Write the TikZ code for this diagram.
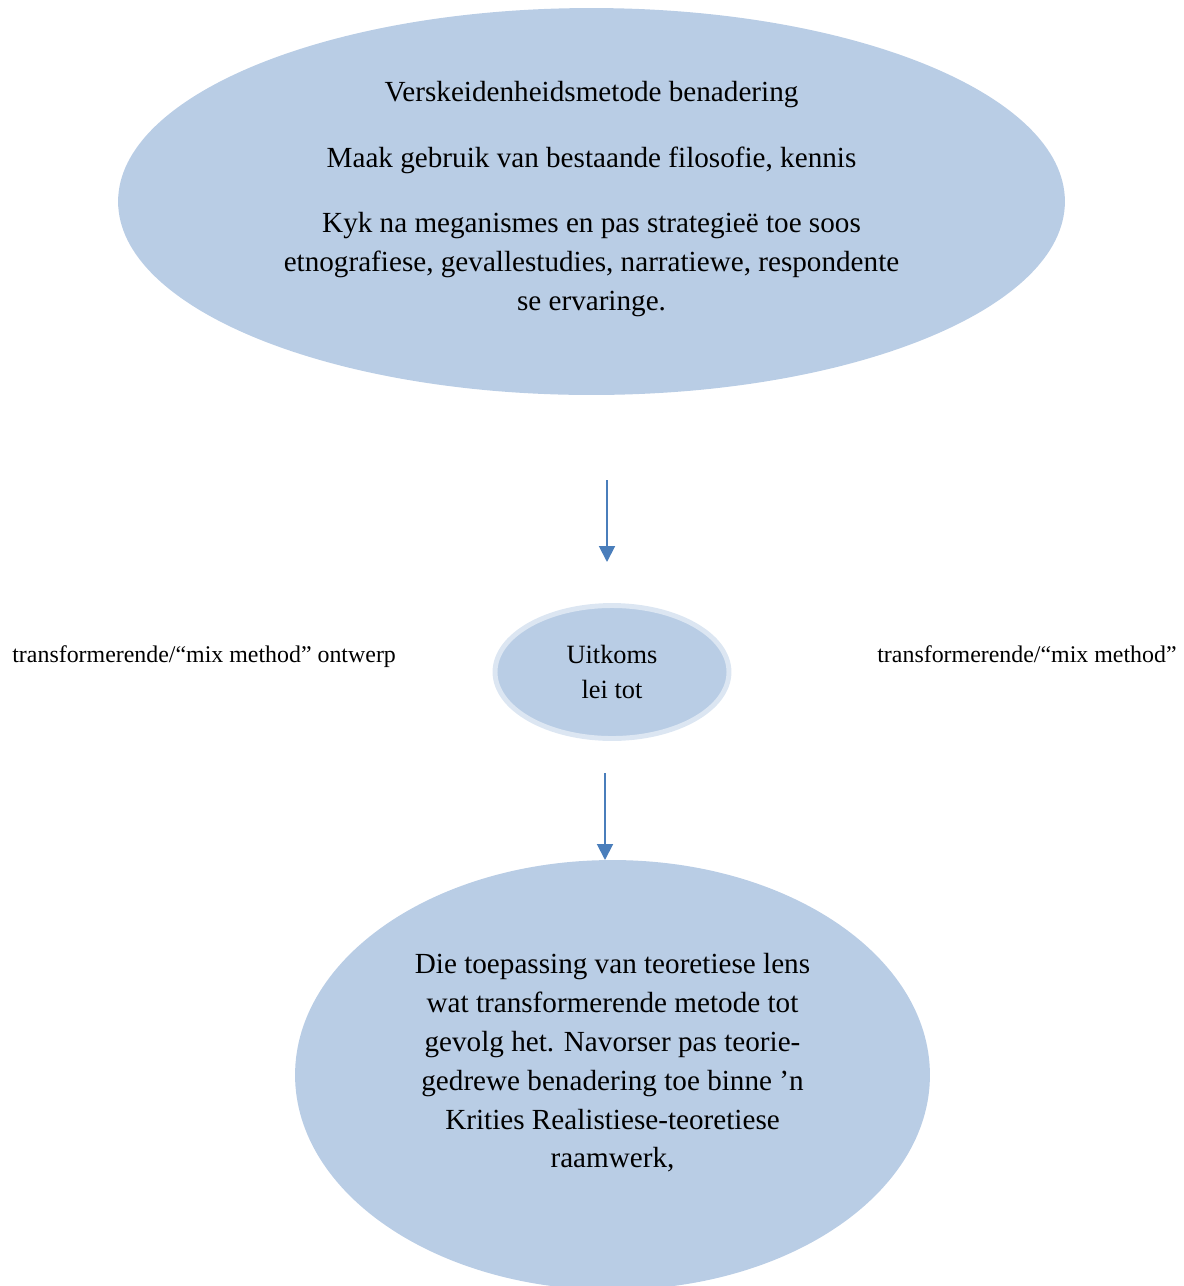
\documentclass[tikz,border=0pt]{standalone}
\usepackage{fontspec}
\setmainfont{Liberation Serif}
\usetikzlibrary{positioning,shapes.geometric,arrows.meta}
\definecolor{ellblue}{RGB}{185,205,229}
\definecolor{ringblue}{RGB}{220,230,242}
\definecolor{arrblue}{RGB}{74,126,187}

\begin{document}
\begin{tikzpicture}[x=0.02cm,y=-0.02cm,
  ell/.style={ellipse,fill=ellblue,inner sep=0pt},
  arr/.style={draw=arrblue,line width=1.1pt,-{Triangle[width=9pt,length=9pt]}},
  big/.style={font=\fontsize{16.6}{22.1}\selectfont,align=center},
  small/.style={font=\fontsize{13.6}{17}\selectfont,inner sep=0pt}]
\clip (0,0) rectangle (1184,1286);
% the three ellipses
\node[ell,minimum width=18.94cm,minimum height=7.74cm] (top) at (591.5,201.5) {};
\node[ell,draw=ringblue,line width=2.8pt,minimum width=4.68cm,minimum height=2.66cm] (mid) at (612,672) {};
\node[ell,minimum width=12.7cm,minimum height=8.6cm] (bot) at (612.5,1075) {};
% texts in them
\node[big] (toptext) at (591.5,199) {Verskeidenheidsmetode benadering\\[15.3pt]
  Maak gebruik van bestaande filosofie, kennis\\[15.3pt]
  Kyk na meganismes en pas strategieë toe soos\\
  etnografiese, gevallestudies, narratiewe, respondente\\
  se ervaringe.};
\node[align=center,font=\fontsize{15}{20.4}\selectfont] (midtext) at (mid.center) {Uitkoms\\ lei tot};
\node[big] (bottext) at (612.5,1063) {Die toepassing van teoretiese lens\\
  wat transformerende metode tot\\
  gevolg het. Navorser pas teorie-\\
  gedrewe benadering toe binne ’n\\
  Krities Realistiese-teoretiese\\
  raamwerk,};
% side labels
\node[small,anchor=base west] (left) at (12,662) {transformerende/“mix method” ontwerp};
\node[small,anchor=base west] (right) at (877,662) {transformerende/“mix method”};
% arrows
\coordinate (a1) at (607,480);
\coordinate (b1) at (607,562);
\coordinate (a2) at (605,773);
\coordinate (b2) at (605,860);
\draw[arr] (a1)--(b1);
\draw[arr] (a2)--(b2);
\end{tikzpicture}
\end{document}
